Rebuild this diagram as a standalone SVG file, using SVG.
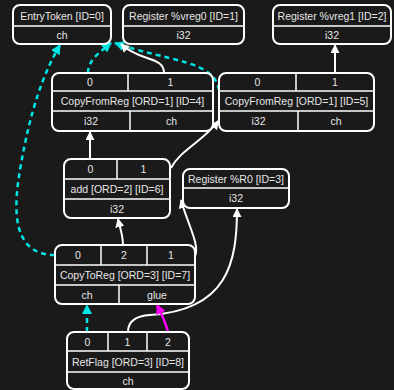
<svg xmlns="http://www.w3.org/2000/svg" width="394" height="390" viewBox="0 0 394 390">
<defs>
<style>
.box{fill:#1a1a1a;stroke:#ffffff;stroke-width:2}
.div{stroke:#ffffff;stroke-width:1.5;fill:none}
text{font-family:"Liberation Sans",Arial,sans-serif;font-size:10.5px;fill:#e6e6e6;text-anchor:middle;dominant-baseline:central}
.w{stroke:#ffffff;stroke-width:2;fill:none}
.c{stroke:#00e5e5;stroke-width:2.5;fill:none;stroke-dasharray:5,4}
.m{stroke:#ff00ff;stroke-width:2.5;fill:none}
</style>
<marker id="aw" viewBox="0 0 10 10" refX="9" refY="5" markerWidth="9" markerHeight="9" markerUnits="userSpaceOnUse" orient="auto"><path d="M0,0 L10,5 L0,10 z" fill="#ffffff"/></marker>
<marker id="ac" viewBox="0 0 10 10" refX="9" refY="5" markerWidth="10" markerHeight="10" markerUnits="userSpaceOnUse" orient="auto"><path d="M0,0 L10,5 L0,10 z" fill="#00e5e5"/></marker>
<marker id="am" viewBox="0 0 10 10" refX="9" refY="5" markerWidth="10" markerHeight="10" markerUnits="userSpaceOnUse" orient="auto"><path d="M0,0 L10,5 L0,10 z" fill="#ff00ff"/></marker>
</defs>
<rect width="394" height="390" fill="#1a1a1a"/>
<g id="connectors">
<path class="c" d="M88,73 C88,60 100,52 111,43" marker-end="url(#ac)"/>
<path class="c" d="M219,90 C214,60 170,62 115,43" marker-end="url(#ac)"/>
<path class="w" d="M164,73 C164,56 140,62 121,44" marker-end="url(#aw)"/>
<path class="w" d="M90,159 L90,132" marker-end="url(#aw)"/>
<path class="w" d="M335,73 L335,45" marker-end="url(#aw)"/>
<path class="w" d="M171,168 C180,150 205,140 218,121" marker-end="url(#aw)"/>
<path class="w" d="M123,245 C123,235 120,228 118,219" marker-end="url(#aw)"/>
<path class="w" d="M195,256 C200,245 188,225 181,200" marker-end="url(#aw)"/>
<path class="w" d="M128,332 C128,322 134,316 150,315 C228,310 237,262 237,209" marker-end="url(#aw)"/>
<path class="m" d="M168,332 C165,320 161,313 157,305" marker-end="url(#am)"/>
<path class="c" d="M87,332 L87,305" marker-end="url(#ac)"/>
<path class="c" d="M55,255 C10,255 14,205 20,170 C30,110 44,72 60,45" marker-end="url(#ac)"/>
</g>
<g id="n0">
<rect class="box" x="13" y="5" width="98" height="39" rx="7"/>
<line class="div" x1="13" y1="26" x2="111" y2="26"/>
<text x="62" y="15.5">EntryToken [ID=0]</text>
<text x="62" y="35">ch</text>
</g>
<g id="n1">
<rect class="box" x="123" y="5" width="121" height="39" rx="7"/>
<line class="div" x1="123" y1="26" x2="244" y2="26"/>
<text x="183.5" y="15.5">Register %vreg0 [ID=1]</text>
<text x="183.5" y="35">i32</text>
</g>
<g id="n2">
<rect class="box" x="273" y="5" width="118" height="39" rx="7"/>
<line class="div" x1="273" y1="26" x2="391" y2="26"/>
<text x="332" y="15.5">Register %vreg1 [ID=2]</text>
<text x="332" y="35">i32</text>
</g>
<g id="n4">
<rect class="box" x="52" y="73" width="161" height="58" rx="7"/>
<line class="div" x1="52" y1="91" x2="213" y2="91"/>
<line class="div" x1="52" y1="111" x2="213" y2="111"/>
<line class="div" x1="128" y1="73" x2="128" y2="91"/>
<line class="div" x1="130" y1="111" x2="130" y2="131"/>
<text x="90" y="82">0</text>
<text x="170.5" y="82">1</text>
<text x="132.5" y="101">CopyFromReg [ORD=1] [ID=4]</text>
<text x="91" y="121">i32</text>
<text x="171.5" y="121">ch</text>
</g>
<g id="n5">
<rect class="box" x="219" y="73" width="155" height="58" rx="7"/>
<line class="div" x1="219" y1="91" x2="374" y2="91"/>
<line class="div" x1="219" y1="111" x2="374" y2="111"/>
<line class="div" x1="296" y1="73" x2="296" y2="91"/>
<line class="div" x1="298" y1="111" x2="298" y2="131"/>
<text x="257.5" y="82">0</text>
<text x="335" y="82">1</text>
<text x="296.5" y="101">CopyFromReg [ORD=1] [ID=5]</text>
<text x="258.5" y="121">i32</text>
<text x="336" y="121">ch</text>
</g>
<g id="n6">
<rect class="box" x="64" y="159" width="106" height="59" rx="7"/>
<line class="div" x1="64" y1="179" x2="170" y2="179"/>
<line class="div" x1="64" y1="199" x2="170" y2="199"/>
<line class="div" x1="117" y1="159" x2="117" y2="179"/>
<text x="90.5" y="169">0</text>
<text x="143.5" y="169">1</text>
<text x="117" y="189">add [ORD=2] [ID=6]</text>
<text x="117" y="209">i32</text>
</g>
<g id="n3">
<rect class="box" x="183" y="169" width="106" height="39" rx="7"/>
<line class="div" x1="183" y1="188" x2="289" y2="188"/>
<text x="236" y="178.5">Register %R0 [ID=3]</text>
<text x="236" y="198">i32</text>
</g>
<g id="n7">
<rect class="box" x="55" y="245" width="140" height="59" rx="7"/>
<line class="div" x1="55" y1="265" x2="195" y2="265"/>
<line class="div" x1="55" y1="285" x2="195" y2="285"/>
<line class="div" x1="101" y1="245" x2="101" y2="265"/>
<line class="div" x1="147" y1="245" x2="147" y2="265"/>
<line class="div" x1="119" y1="285" x2="119" y2="304"/>
<text x="78" y="255">0</text>
<text x="124" y="255">2</text>
<text x="171" y="255">1</text>
<text x="125" y="275">CopyToReg [ORD=3] [ID=7]</text>
<text x="87" y="294.5">ch</text>
<text x="157" y="294.5">glue</text>
</g>
<g id="n8">
<rect class="box" x="67" y="332" width="122" height="57" rx="7"/>
<line class="div" x1="67" y1="351" x2="189" y2="351"/>
<line class="div" x1="67" y1="372" x2="189" y2="372"/>
<line class="div" x1="108" y1="332" x2="108" y2="351"/>
<line class="div" x1="147" y1="332" x2="147" y2="351"/>
<text x="87.5" y="341.5">0</text>
<text x="127.5" y="341.5">1</text>
<text x="168" y="341.5">2</text>
<text x="128" y="361.5">RetFlag [ORD=3] [ID=8]</text>
<text x="128" y="380.5">ch</text>
</g>
</svg>
